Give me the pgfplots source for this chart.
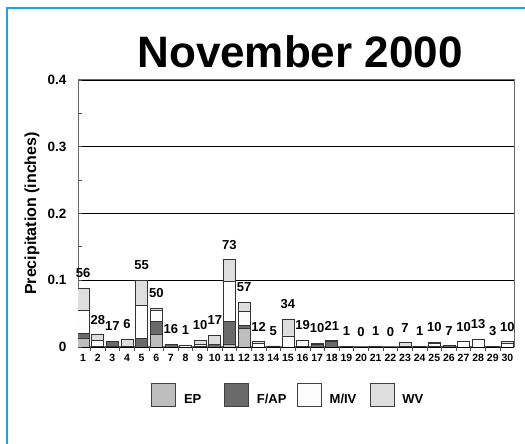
\documentclass[border=0pt]{standalone}
\usepackage{fontspec}
\setmainfont{Liberation Sans}
\usepackage{pgfplots}
\pgfplotsset{compat=1.18}
\usepackage{pgfplotstable}
\definecolor{epc}{HTML}{BEBEBE}
\definecolor{fapc}{HTML}{6A6A6A}
\definecolor{mivc}{HTML}{FCFCFC}
\definecolor{wvc}{HTML}{DEDEDE}
\definecolor{framec}{HTML}{1AA6E6}
\pgfplotstableread{
day EP FAP MIV WV label
1 0.0135 0.0065 0.035 0.0335 56
2 0.001 0 0.0085 0.009 28
3 0.001 0.007 0 0.0005 17
4 0 0.001 0 0.011 6
5 0 0.013 0.0495 0.0375 55
6 0.019 0.019 0.0175 0.003 50
7 0 0.004 0 0 16
8 0 0 0.003 0 1
9 0.001 0 0.003 0.0065 10
10 0 0.0035 0 0.0145 17
11 0.0045 0.0335 0.06 0.033 73
12 0.0275 0.005 0.021 0.014 57
13 0 0 0.006 0.002 12
14 0 0.0015 0 0 5
15 0 0 0.0165 0.0255 34
16 0 0.001 0.0085 0.001 19
17 0 0.0045 0.001 0 10
18 0 0.008 0 0.0015 21
19 0 0 0.001 0 1
20 0 0 0 0 0
21 0 0 0.001 0 1
22 0 0 0 0 0
23 0 0 0.0015 0.005 7
24 0 0 0.001 0 1
25 0 0.001 0.004 0.002 10
26 0 0.002 0 0 7
27 0 0 0.008 0 10
28 0 0 0.012 0 13
29 0 0 0.001 0 3
30 0 0 0.005 0.003 10
}\data
\begin{document}
\begin{tikzpicture}[x=1pt,y=1pt]
\path[use as bounding box] (0,0) rectangle (525,444);
\draw[line width=2.5pt, color=framec] (7,-2) -- (7,436) -- (527,436);
\node[font=\fontsize{44}{44}\selectfont\bfseries, anchor=base] at (300,376) {November 2000};
\begin{axis}[
  at={(78pt,97pt)}, anchor=south west,
  scale only axis, width=436pt, height=267pt,
  ybar stacked, bar width=12pt,
  xmin=0.65, xmax=30.45, ymin=0, ymax=0.4,
  tick align=inside,
  major tick length=4pt, minor tick length=4pt,
  xtick={1.5,2.5,...,29.5}, xticklabels={},
  xtick pos=bottom, ytick pos=left,
  x tick style={yshift=-4pt, draw=black!70, line width=0.8pt},
  extra x ticks={1,2,...,30},
  extra x tick style={major tick length=0pt, tick style={draw=none}},
  extra x tick labels={1,2,3,4,5,6,7,8,9,10,11,12,13,14,15,16,17,18,19,20,21,22,23,24,25,26,27,28,29,30},
  x tick label style={font=\fontsize{10.5}{10.5}\selectfont\bfseries, yshift=-4pt},
  ytick={0,0.1,0.2,0.3,0.4},
  yticklabels={0,0.1,0.2,0.3,0.4},
  minor ytick={0.05,0.15,0.25,0.35},
  y tick style={draw=black!70, line width=0.8pt},
  y tick label style={font=\fontsize{13.5}{13.5}\selectfont\bfseries, xshift=-8pt},
  ymajorgrids,
  major grid style={black, line width=0.8pt},
  axis line style={draw=black!60, line width=1pt},
  ylabel={Precipitation (inches)},
  every axis y label/.style={at={([xshift=-46pt]axis description cs:0,0.5)}, rotate=90, anchor=center,
     font=\fontsize{16}{16}\selectfont\bfseries},
  /pgf/number format/assume math mode=true,
  legend image code/.code={\draw[#1, draw=black!75, line width=0.8pt] (0pt,-7pt) rectangle (24pt,16pt);},
  legend columns=4,
  legend style={draw=none, fill=none, at={(0.502,-0.18)}, anchor=center,
    font=\fontsize{13}{13}\selectfont\bfseries,
    nodes={inner sep=0pt, text width=40pt, align=left},
    /tikz/every odd column/.append style={column sep=8pt},
    /tikz/every even column/.append style={column sep=0pt}},
]
\addplot[fill=epc, draw=black!80, line width=0.7pt] table[x=day, y=EP] {\data};
\addplot[fill=fapc, draw=black!80, line width=0.7pt] table[x=day, y=FAP] {\data};
\addplot[fill=mivc, draw=black!80, line width=0.7pt] table[x=day, y=MIV] {\data};
\addplot[fill=wvc, draw=black!80, line width=0.7pt] table[x=day, y=WV] {\data};
\legend{EP,F/AP,M/IV,WV}
\end{axis}
\begin{axis}[
  at={(78pt,97pt)}, anchor=south west,
  scale only axis, width=436pt, height=267pt,
  xmin=0.65, xmax=30.45, ymin=0, ymax=0.4,
  hide axis, clip=false,
  nodes near coords,
  nodes near coords style={font=\fontsize{13}{13}\selectfont\bfseries, anchor=center, yshift=15pt},
]
\addplot[draw=none, mark=none, nodes near coords, point meta=explicit symbolic]
  table[x=day, y expr=\thisrow{EP}+\thisrow{FAP}+\thisrow{MIV}+\thisrow{WV}, meta=label] {\data};
\end{axis}
\end{tikzpicture}
\end{document}
